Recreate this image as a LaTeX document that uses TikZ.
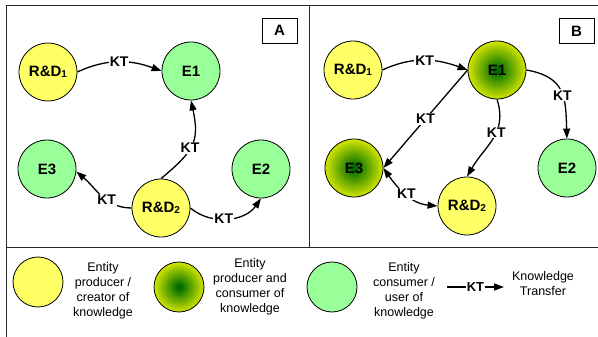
\documentclass[tikz,border=0pt]{standalone}
\usepackage{fontspec}
\setmainfont{Liberation Sans}
\usetikzlibrary{arrows.meta}
\definecolor{ylw}{RGB}{255,255,102}
\definecolor{grn}{RGB}{153,255,153}
\definecolor{dkg}{RGB}{0,110,0}
\definecolor{gy}{RGB}{230,240,0}
\definecolor{frame}{RGB}{40,40,40}
\pgfdeclareradialshading{eshade}{\pgfpoint{0bp}{0bp}}{color(0bp)=(dkg); color(2bp)=(dkg); color(27bp)=(gy); color(50bp)=(gy)}
\tikzset{
  ent/.style={circle, draw, line width=0.8pt, minimum size=58pt, inner sep=0pt, font=\fontsize{15}{15}\selectfont\bfseries},
  prod/.style={ent, fill=ylw},
  cons/.style={ent, fill=grn},
  both/.style={ent, shade, shading=eshade},
  leg/.style={circle, draw, line width=0.8pt, minimum size=50pt, inner sep=0pt},
  kt/.style={-{Triangle[length=10pt,width=7pt]}, line width=1.3pt},
  ktb/.style={{Triangle[length=10pt,width=7pt]}-{Triangle[length=10pt,width=7pt]}, line width=1.3pt},
  lab/.style={fill=white, inner sep=1pt, font=\fontsize{14}{14}\selectfont\bfseries},
  tag/.style={draw, line width=0.8pt, minimum width=35pt, minimum height=25pt, inner sep=0pt, font=\fontsize{15}{15}\selectfont\bfseries},
  ltxt/.style={align=center, font=\fontsize{12.5}{15}\selectfont}
}
\newcommand{\sbs}[1]{\raisebox{-0.8pt}{\fontsize{10}{10}\selectfont #1}}
\begin{document}
\begin{tikzpicture}[x=1pt,y=1pt]
\useasboundingbox (0,0) rectangle (598,-337);
% frame
\draw[frame, line width=0.9pt] (6,-337) -- (6,-5) -- (598,-5);
\draw[frame, line width=0.9pt] (309,-5) -- (309,-247);
\draw[frame, line width=0.9pt] (6,-247) -- (598,-247);
% tags
\node[tag] (ta) at (279.5,-30.5) {A};
\node[tag] (tb) at (576.5,-31) {B};
% panel A
\node[prod] (r1a) at (48,-72) {R\&D\sbs{1}};
\node[cons] (e1a) at (191,-71) {E1};
\node[cons] (e3a) at (47,-169) {E3};
\node[cons] (e2a) at (261,-169) {E2};
\node[prod] (r2a) at (161,-208) {R\&D\sbs{2}};
\draw[kt] (r1a.east) to[out=25,in=160] node[lab]{KT} (e1a.west);
\draw[kt] (r2a.north) to[out=40,in=-78,looseness=1.3] node[lab, pos=0.45]{KT} (e1a.south);
\draw[kt] (r2a.west) to[out=180,in=-40] node[lab, pos=0.4]{KT} (e3a.-5);
\draw[kt] (r2a.east) to[out=-40,in=-125] node[lab, pos=0.45]{KT} (e2a.south);
% panel B
\node[prod] (r1b) at (353,-70) {R\&D\sbs{1}};
\node[both] (e1b) at (497,-70) {E1};
\node[both] (e3b) at (354,-168) {E3};
\node[prod] (r2b) at (467,-206) {R\&D\sbs{2}};
\node[cons] (e2b) at (567,-168) {E2};
\draw[kt] (r1b.east) to[out=25,in=160] node[lab]{KT} (e1b.west);
\draw[kt] (e1b.west) -- node[lab]{KT} (e3b.east);
\draw[kt] (e1b.south) to[out=-72,in=60,looseness=1.1] node[lab, pos=0.4]{KT} (r2b.north);
\draw[kt] (e1b.east) to[out=-10,in=92,looseness=1.3] node[lab, pos=0.55]{KT} (e2b.north);
\draw[ktb] (e3b.east) to[out=-55,in=175] node[lab, pos=0.5]{KT} (r2b.west);
% legend
\node[leg, fill=ylw] (ly) at (38,-282) {};
\node[leg, shade, shading=eshade] (lb) at (179,-287) {};
\node[leg, fill=grn] (lg) at (332,-287) {};
\node[ltxt] (t1) at (103,-291) {Entity\\producer /\\creator of\\knowledge};
\node[ltxt] (t2) at (250,-287) {Entity\\producer and\\consumer of\\knowledge};
\node[ltxt] (t3) at (404,-291) {Entity\\consumer /\\user of\\knowledge};
\coordinate (ka) at (447,-287);
\coordinate (kb) at (504,-287);
\draw[kt] (ka) -- node[lab, font=\fontsize{13}{13}\selectfont\bfseries]{KT} (kb);
\node[ltxt] (t4) at (543,-284) {Knowledge\\Transfer};
\end{tikzpicture}
\end{document}
